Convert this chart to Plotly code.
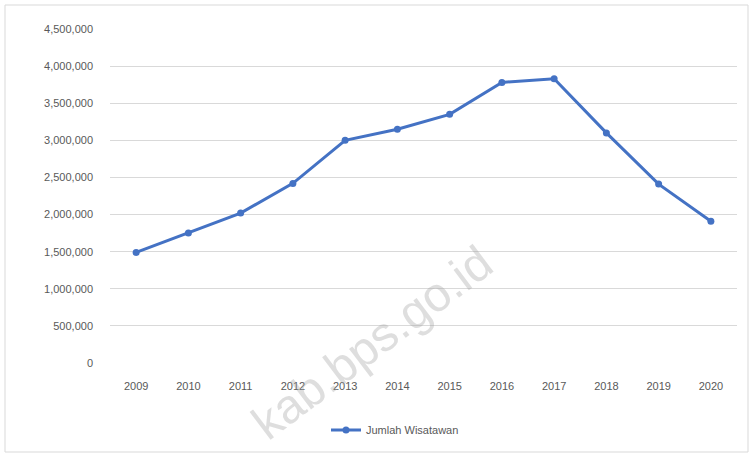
import plotly.graph_objects as go

years = ["2009", "2010", "2011", "2012", "2013", "2014", "2015", "2016", "2017", "2018", "2019", "2020"]
wisatawan = [1490000, 1750000, 2020000, 2420000, 3000000, 3150000, 3350000, 3780000, 3830000, 3100000, 2410000, 1910000]
series_name = "Jumlah Wisatawan"
y_ticks = [0, 500000, 1000000, 1500000, 2000000, 2500000, 3000000, 3500000, 4000000, 4500000]

W, H = 753, 456
L, R, T, B = 110, 16, 29, 93

fig = go.Figure()
fig.add_trace(go.Scatter(
    x=years, y=wisatawan, mode="lines+markers", name=series_name,
    line=dict(color="#4472C4", width=3),
    marker=dict(color="#4472C4", size=7, symbol="circle"),
))

pw = W - L - R
ph = H - T - B
def px_x(x):
    return (x - L) / pw
def px_y(y):
    return (H - B - y) / ph

fig.update_layout(
    width=W, height=H,
    margin=dict(l=L, r=R, t=T, b=B, autoexpand=False),
    paper_bgcolor="white", plot_bgcolor="white",
    font=dict(family="Liberation Sans, Arial, sans-serif", color="#595959", size=11),
    showlegend=True,
    legend=dict(orientation="h", x=px_x(395), xanchor="center", y=px_y(430), yanchor="middle",
                font=dict(size=11, color="#595959")),
    xaxis=dict(type="category", showgrid=False, zeroline=False, showline=False, automargin=False,
               ticks="", ticklabelstandoff=15, range=[-0.5, 11.5]),
    yaxis=dict(range=[0, 4500000], tickvals=y_ticks, tickformat=",", automargin=False,
               showgrid=True, gridcolor="#D9D9D9", gridwidth=1, zeroline=False,
               showline=False, ticks="", ticklabelstandoff=16),
    shapes=[dict(type="rect", xref="paper", yref="paper",
                 x0=px_x(5), x1=px_x(748), y0=px_y(452), y1=px_y(5),
                 line=dict(color="#D9D9D9", width=1), layer="below")],
    annotations=[dict(text="kab.bps.go.id", xref="paper", yref="paper",
                      x=px_x(372), y=px_y(342), xanchor="center", yanchor="middle",
                      showarrow=False, textangle=-37,
                      font=dict(size=48, color="rgba(160,160,160,0.35)",
                                family="Liberation Sans, Arial, sans-serif"))],
)

fig.write_html("out.html", post_script="document.body.style.margin='0';",
               config={"displayModeBar": False})
